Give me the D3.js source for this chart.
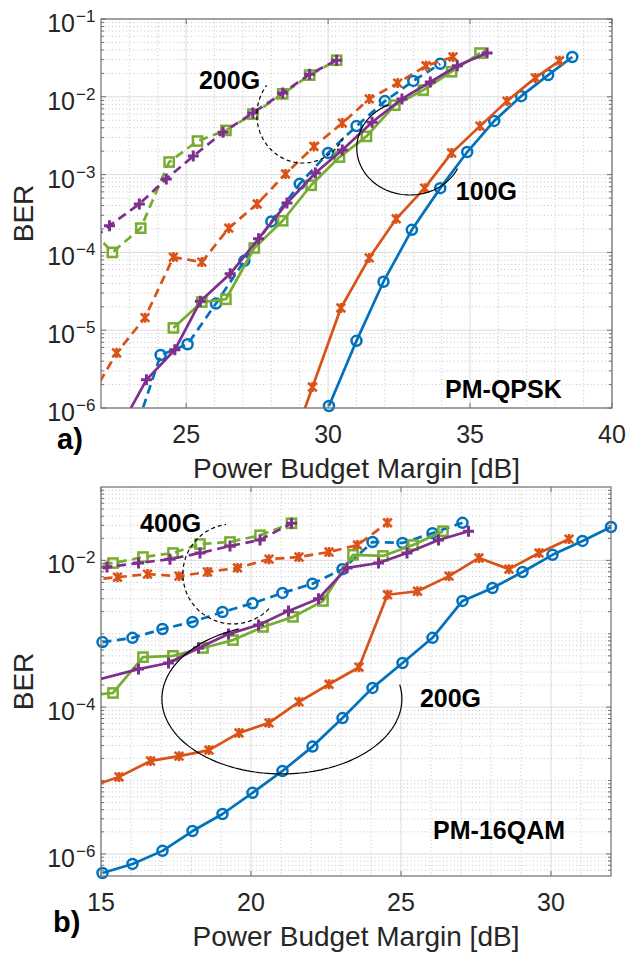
<!DOCTYPE html>
<html>
<head>
<meta charset="utf-8">
<script src="https://cdn.jsdelivr.net/npm/d3@7"></script>
<style>
  body { margin: 0; background: #fff; }
  text { font-family: "Liberation Sans", Arial, Helvetica, sans-serif; }
</style>
</head>
<body>
<div id="chart"></div>
<script>
// ---- panel a) PM-QPSK : [margin dB, BER] ----
const aBlue200   = [[23.0,3.0e-7],[24.1,4.8e-6],[25.05,6.6e-6],[26.05,2.2e-5],[27.05,7.8e-5],[28.0,2.5e-4],[29.0,7.6e-4],[30.0,1.9e-3],[31.0,4.2e-3],[32.0,8.8e-3],[33.0,1.6e-2],[33.95,2.65e-2]];
const aOrange200 = [[21.7,1.5e-6],[22.55,5.1e-6],[23.55,1.45e-5],[24.55,8.7e-5],[25.55,7.5e-5],[26.5,2.05e-4],[27.5,4.2e-4],[28.5,1.02e-3],[29.5,2.3e-3],[30.5,4.6e-3],[31.45,9.4e-3],[32.45,1.5e-2],[33.45,2.5e-2],[34.4,3.25e-2]];
const aGreen200  = [[21.4,2.5e-4],[22.4,1.0e-4],[23.4,2.05e-4],[24.4,1.45e-3],[25.4,2.7e-3],[26.4,3.7e-3],[27.35,6.0e-3],[28.4,1.09e-2],[29.35,1.9e-2],[30.3,2.95e-2]];
const aPurple200 = [[21.4,1.22e-4],[22.3,2.2e-4],[23.35,4.2e-4],[24.3,8.8e-4],[25.25,1.73e-3],[26.3,3.5e-3],[27.35,6.2e-3],[28.4,1.12e-2],[29.35,1.95e-2],[30.3,2.95e-2]];
const aBlue100   = [[30.03,1.06e-6],[31.0,7.3e-6],[31.95,4.2e-5],[32.95,1.95e-4],[33.95,6.7e-4],[34.9,1.95e-3],[35.85,4.9e-3],[36.8,1.02e-2],[37.75,1.9e-2],[38.6,3.25e-2]];
const aOrange100 = [[28.8,4.0e-7],[29.45,1.86e-6],[30.45,1.93e-5],[31.45,8.5e-5],[32.4,2.7e-4],[33.4,6.7e-4],[34.35,1.9e-3],[35.35,4.2e-3],[36.3,8.8e-3],[37.3,1.75e-2],[38.15,2.9e-2]];
const aGreen100  = [[24.55,1.07e-5],[25.55,2.3e-5],[26.4,2.5e-5],[27.4,1.14e-4],[28.4,2.55e-4],[29.4,7.3e-4],[30.4,1.68e-3],[31.35,3.1e-3],[32.35,7.8e-3],[33.35,1.22e-2],[34.35,2.1e-2],[35.35,3.65e-2]];
const aPurple100 = [[22.6,5.0e-7],[23.6,2.3e-6],[24.6,5.6e-6],[25.5,2.35e-5],[26.55,5.3e-5],[27.55,1.5e-4],[28.55,4.3e-4],[29.55,1.05e-3],[30.5,2.07e-3],[31.55,4.7e-3],[32.6,9.4e-3],[33.6,1.55e-2],[34.55,2.5e-2],[35.6,3.65e-2]];

// ---- panel b) PM-16QAM ----
const bGreen400  = [[14.6,8.8e-3],[15.4,9.2e-3],[16.4,1.11e-2],[17.4,1.26e-2],[18.3,1.67e-2],[19.3,1.78e-2],[20.3,2.2e-2],[21.35,3.2e-2]];
const bPurple400 = [[14.6,6.8e-3],[15.2,8.1e-3],[16.25,9.2e-3],[17.3,1.04e-2],[18.3,1.26e-2],[19.3,1.57e-2],[20.3,1.9e-2],[21.35,3.2e-2]];
const bOrange400 = [[14.6,5.4e-3],[15.55,5.9e-3],[16.55,6.5e-3],[17.6,6.1e-3],[18.55,6.95e-3],[19.55,7.9e-3],[20.6,1.04e-2],[21.6,1.11e-2],[22.6,1.3e-2],[23.55,1.62e-2],[24.55,3.25e-2]];
const bBlue400   = [[15.05,7.7e-4],[16.05,8.8e-4],[17.05,1.16e-3],[18.05,1.45e-3],[19.05,1.98e-3],[20.05,2.6e-3],[21.05,3.6e-3],[22.05,4.8e-3],[23.05,7.6e-3],[24.05,1.78e-2],[25.05,1.73e-2],[26.05,2.35e-2],[27.05,3.25e-2]];
const bPurple200 = [[14.6,2.2e-4],[16.25,3.3e-4],[17.25,4.0e-4],[18.25,6.4e-4],[19.25,9.9e-4],[20.25,1.32e-3],[21.25,2.05e-3],[22.25,3.0e-3],[23.2,7.9e-3],[24.25,9.2e-3],[25.2,1.26e-2],[26.25,1.9e-2],[27.25,2.5e-2]];
const bGreen200  = [[14.6,1.45e-4],[15.4,1.56e-4],[16.4,4.8e-4],[17.4,5.0e-4],[18.4,6.4e-4],[19.4,8.2e-4],[20.4,1.24e-3],[21.4,1.7e-3],[22.4,2.8e-3],[23.4,1.19e-2],[24.4,1.15e-2],[25.4,1.62e-2],[26.4,2.5e-2]];
const bOrange200 = [[14.6,8.2e-6],[15.6,1.12e-5],[16.65,1.85e-5],[17.6,2.15e-5],[18.6,2.6e-5],[19.6,4.45e-5],[20.6,6.1e-5],[21.6,1.18e-4],[22.6,2.05e-4],[23.6,3.5e-4],[24.55,3.4e-3],[25.55,3.8e-3],[26.6,6.1e-3],[27.6,1.08e-2],[28.6,7.6e-3],[29.6,1.26e-2],[30.6,1.95e-2]];
const bBlue200   = [[15.05,5.5e-7],[16.05,7.3e-7],[17.05,1.1e-6],[18.05,2.05e-6],[19.05,3.5e-6],[20.05,6.8e-6],[21.05,1.35e-5],[22.05,2.9e-5],[23.05,7.1e-5],[24.05,1.83e-4],[25.05,4.0e-4],[26.05,8.8e-4],[27.05,2.8e-3],[28.05,4.2e-3],[29.05,6.95e-3],[30.05,1.19e-2],[31.05,1.84e-2],[32.0,2.85e-2]];

// ticks
const aXTicks = [25, 30, 35, 40];
const aYTicks = [1e-1, 1e-2, 1e-3, 1e-4, 1e-5, 1e-6];
const bXTicks = [15, 20, 25, 30];
const bYTicks = [1e-2, 1e-4, 1e-6];

const colors = { blue: "#0072BD", orange: "#D95319", purple: "#7E2F8E", green: "#77AC30" };

const svg = d3.select("#chart").append("svg")
    .attr("width", 628)
    .attr("height", 954);

function marker(g, shape, color, cx, cy) {
    const s = g.append("g").attr("transform", `translate(${cx},${cy})`)
        .attr("fill", "none").attr("stroke", color).attr("stroke-width", 2.5);
    if (shape === "o") {
        s.append("circle").attr("r", 5);
    } else if (shape === "s") {
        s.append("rect").attr("x", -4.6).attr("y", -4.6).attr("width", 9.2).attr("height", 9.2);
    } else if (shape === "+") {
        s.append("path").attr("d", "M-5.5,0H5.5M0,-5.5V5.5").attr("stroke-width", 3);
    } else if (shape === "*") {
        s.append("path").attr("d", "M-4.3,-4.3L4.3,4.3M-4.3,4.3L4.3,-4.3M0,-5V5").attr("stroke-width", 2.6);
    }
}

function drawPanel(p, idx) {
    const x = d3.scaleLinear().domain(p.xDomain).range([p.left, p.right]);
    const y = d3.scaleLog().domain(p.yDomain).range([p.bottom, p.top]);
    const g = svg.append("g");

    // minor grid values
    const xMinor = d3.range(Math.ceil(p.xDomain[0]), p.xDomain[1] + 0.01, 1)
        .filter(v => !p.xTicks.includes(v) && v > p.xDomain[0] && v < p.xDomain[1]);
    const yMinor = [];
    for (let k = Math.floor(Math.log10(p.yDomain[0])); k < Math.log10(p.yDomain[1]); k++) {
        for (let m = 1; m <= 9; m++) {
            const v = m * Math.pow(10, k);
            if (v > p.yDomain[0] && v < p.yDomain[1] * 0.999 && !p.yTicks.some(t => Math.abs(t - v) / v < 1e-6)) yMinor.push(v);
        }
    }

    g.selectAll(".xminor").data(xMinor).enter().append("line")
        .attr("x1", d => x(d)).attr("x2", d => x(d))
        .attr("y1", p.top).attr("y2", p.bottom)
        .attr("stroke", "#c4c4c4").attr("stroke-dasharray", "1,2.6").attr("stroke-width", 1);
    g.selectAll(".yminor").data(yMinor).enter().append("line")
        .attr("x1", p.left).attr("x2", p.right)
        .attr("y1", d => y(d)).attr("y2", d => y(d))
        .attr("stroke", "#c4c4c4").attr("stroke-dasharray", "1,2.6").attr("stroke-width", 1);

    // major grid
    g.selectAll(".xmajor").data(p.xTicks).enter().append("line")
        .attr("x1", d => x(d)).attr("x2", d => x(d))
        .attr("y1", p.top).attr("y2", p.bottom)
        .attr("stroke", "#dcdcdc").attr("stroke-width", 1);
    g.selectAll(".ymajor").data(p.yTicks).enter().append("line")
        .attr("x1", p.left).attr("x2", p.right)
        .attr("y1", d => y(d)).attr("y2", d => y(d))
        .attr("stroke", "#dcdcdc").attr("stroke-width", 1);

    // clip
    const clipId = "clip" + idx;
    svg.append("clipPath").attr("id", clipId).append("rect")
        .attr("x", p.left).attr("y", p.top)
        .attr("width", p.right - p.left).attr("height", p.bottom - p.top);

    const line = d3.line().x(d => x(d[0])).y(d => y(d[1]));

    p.series.forEach(s => {
        g.append("path")
            .datum(s.data)
            .attr("clip-path", `url(#${clipId})`)
            .attr("fill", "none")
            .attr("stroke", s.color)
            .attr("stroke-width", 2.7)
            .attr("stroke-linejoin", "round")
            .attr("stroke-dasharray", s.dash ? "9,5.5" : null)
            .attr("d", line);
        s.data.filter(d => d[0] >= p.xDomain[0] && d[0] <= p.xDomain[1] && d[1] >= p.yDomain[0] && d[1] <= p.yDomain[1])
            .forEach(d => marker(g, s.shape, s.color, x(d[0]), y(d[1])));
    });

    // annotation ellipses (data-space centre, radii in dB / decades)
    p.ellipses.forEach(e => {
        const cx = x(e.cx), cy = y(Math.pow(10, e.cl));
        const rx = x(e.cx + e.rx) - cx;
        const ry = y(Math.pow(10, e.cl - e.ry)) - cy;
        const pts = d3.range(e.a0, e.a1 + 0.5, 2).map(a => {
            const t = a * Math.PI / 180;
            return [cx + rx * Math.cos(t), cy + ry * Math.sin(t)];
        });
        g.append("path")
            .attr("d", d3.line()(pts))
            .attr("fill", "none")
            .attr("stroke", "#000")
            .attr("stroke-width", 1.2)
            .attr("stroke-dasharray", e.dash ? "4,3" : null);
    });

    p.notes.forEach(n => {
        g.append("text")
            .attr("x", x(n.x)).attr("y", y(Math.pow(10, n.l)))
            .attr("text-anchor", n.anchor || "start")
            .attr("font-size", 25).attr("font-weight", "bold")
            .attr("fill", "#000")
            .text(n.text);
    });

    // frame
    g.append("rect")
        .attr("x", p.left).attr("y", p.top)
        .attr("width", p.right - p.left).attr("height", p.bottom - p.top)
        .attr("fill", "none").attr("stroke", "#6f6f6f").attr("stroke-width", 1.2);

    // ticks (inward, both sides)
    const tk = g.append("g").attr("stroke", "#6f6f6f").attr("stroke-width", 1);
    p.xTicks.forEach(v => {
        tk.append("line").attr("x1", x(v)).attr("x2", x(v)).attr("y1", p.bottom).attr("y2", p.bottom - 5);
        tk.append("line").attr("x1", x(v)).attr("x2", x(v)).attr("y1", p.top).attr("y2", p.top + 5);
    });
    p.yTicks.forEach(v => {
        tk.append("line").attr("x1", p.left).attr("x2", p.left + 5).attr("y1", y(v)).attr("y2", y(v));
        tk.append("line").attr("x1", p.right).attr("x2", p.right - 5).attr("y1", y(v)).attr("y2", y(v));
    });
    yMinor.forEach(v => {
        tk.append("line").attr("x1", p.left).attr("x2", p.left + 3).attr("y1", y(v)).attr("y2", y(v));
        tk.append("line").attr("x1", p.right).attr("x2", p.right - 3).attr("y1", y(v)).attr("y2", y(v));
    });

    // tick labels
    p.xTicks.forEach(v => {
        g.append("text")
            .attr("x", x(v)).attr("y", p.bottom + 35)
            .attr("text-anchor", "middle")
            .attr("font-size", 25).attr("fill", "#262626")
            .text(v);
    });
    p.yTicks.forEach(v => {
        const e = Math.round(Math.log10(v));
        g.append("text")
            .attr("x", p.left - 26).attr("y", y(v) + 13)
            .attr("text-anchor", "end")
            .attr("font-size", 25).attr("fill", "#262626")
            .text("10");
        g.append("text")
            .attr("x", p.left - 25).attr("y", y(v) + 3)
            .attr("font-size", 17).attr("fill", "#262626")
            .text("\u2212" + Math.abs(e));
    });

    // axis labels
    g.append("text")
        .attr("x", (p.left + p.right) / 2).attr("y", p.bottom + 70)
        .attr("text-anchor", "middle")
        .attr("font-size", 28).attr("fill", "#262626")
        .text("Power Budget Margin [dB]");
    g.append("text")
        .attr("transform", `translate(33,${(p.top + p.bottom) / 2}) rotate(-90)`)
        .attr("text-anchor", "middle")
        .attr("font-size", 28).attr("fill", "#262626")
        .text("BER");

    g.append("text")
        .attr("x", p.labelX).attr("y", p.bottom + p.labelDy)
        .attr("font-size", 29).attr("font-weight", "bold").attr("fill", "#000")
        .text(p.label);
}

drawPanel({
    left: 101, right: 612, top: 19, bottom: 408,
    xDomain: [22, 40], yDomain: [1e-6, 1e-1],
    xTicks: aXTicks, yTicks: aYTicks,
    label: "a)", labelX: 57, labelDy: 41,
    series: [
        { data: aBlue200, color: colors.blue, shape: "o", dash: true },
        { data: aOrange200, color: colors.orange, shape: "*", dash: true },
        { data: aGreen200, color: colors.green, shape: "s", dash: true },
        { data: aPurple200, color: colors.purple, shape: "+", dash: true },
        { data: aBlue100, color: colors.blue, shape: "o", dash: false },
        { data: aOrange100, color: colors.orange, shape: "*", dash: false },
        { data: aGreen100, color: colors.green, shape: "s", dash: false },
        { data: aPurple100, color: colors.purple, shape: "+", dash: false }
    ],
    ellipses: [
        { cx: 29.11, cl: -2.234, rx: 1.62, ry: 0.617, a0: 28, a1: 219, dash: true },
        { cx: 32.88, cl: -2.658, rx: 1.87, ry: 0.604, a0: 26, a1: 247, dash: false }
    ],
    notes: [
        { text: "200G", x: 25.45, l: -1.9 },
        { text: "100G", x: 34.5, l: -3.326 },
        { text: "PM-QPSK", x: 38.23, l: -5.87, anchor: "end" }
    ]
}, 0);

drawPanel({
    left: 101, right: 611, top: 487, bottom: 876,
    xDomain: [15, 32], yDomain: [5e-7, 1e-1],
    xTicks: bXTicks, yTicks: bYTicks,
    label: "b)", labelX: 53, labelDy: 56,
    series: [
        { data: bBlue400, color: colors.blue, shape: "o", dash: true },
        { data: bOrange400, color: colors.orange, shape: "*", dash: true },
        { data: bGreen400, color: colors.green, shape: "s", dash: true },
        { data: bPurple400, color: colors.purple, shape: "+", dash: true },
        { data: bBlue200, color: colors.blue, shape: "o", dash: false },
        { data: bOrange200, color: colors.orange, shape: "*", dash: false },
        { data: bGreen200, color: colors.green, shape: "s", dash: false },
        { data: bPurple200, color: colors.purple, shape: "+", dash: false }
    ],
    ellipses: [
        { cx: 19.4, cl: -2.185, rx: 1.67, ry: 0.681, a0: 44, a1: 263, dash: true },
        { cx: 21.03, cl: -3.888, rx: 4.0, ry: 1.022, a0: -11, a1: 250, dash: false }
    ],
    notes: [
        { text: "400G", x: 16.3, l: -1.613 },
        { text: "200G", x: 25.63, l: -3.997 },
        { text: "PM-16QAM", x: 26.07, l: -5.796 }
    ]
}, 1);
</script>
</body>
</html>
